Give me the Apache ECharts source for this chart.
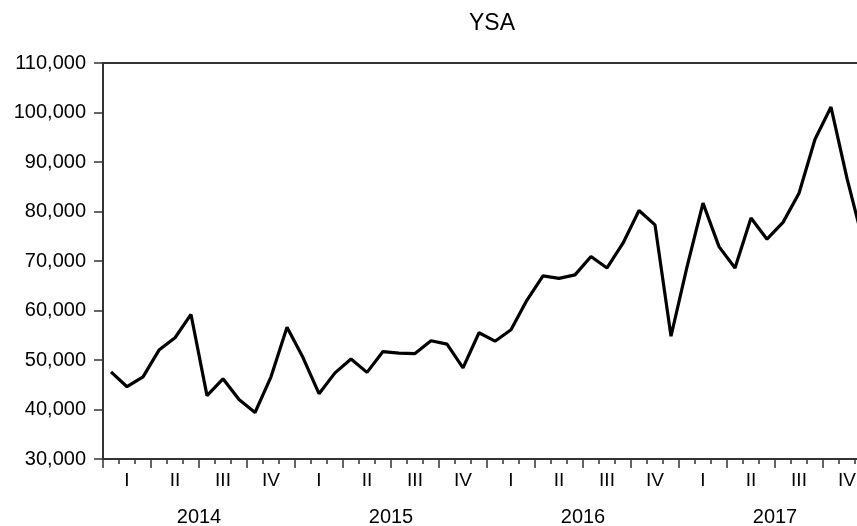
<!DOCTYPE html>
<html>
<head>
<meta charset="utf-8">
<title>YSA</title>
<script src="https://cdn.jsdelivr.net/npm/echarts@6/dist/echarts.min.js"></script>
<style>
  html, body { margin: 0; padding: 0; background: #fff; overflow: hidden; }
  /* the plot runs past the right edge of the window, as in the original */
  #chart { width: 880px; height: 526px; }
</style>
</head>
<body>
<div id="chart"></div>
<script>
// years and quarter labels of the time axis
const years = ['2014', '2015', '2016', '2017']
const quarters = ['I', 'II', 'III', 'IV']
// monthly categories 2014M01 .. 2017M12
const months = years.flatMap(y => Array.from({ length: 12 }, (_, m) => y + 'M' + String(m + 1).padStart(2, '0')))

// YSA, monthly values
const ysa = [
  47600, 44600, 46600, 52000, 54500, 59200, 42800, 46200, 42000, 39400, 46600, 56600,
  50500, 43200, 47400, 50200, 47500, 51700, 51400, 51300, 53900, 53200, 48400, 55500,
  53800, 56100, 62100, 67000, 66500, 67200, 70900, 68600, 73600, 80200, 77300, 54800,
  68800, 81700, 72900, 68600, 78700, 74400, 77800, 83700, 94600, 101100, 86700, 74000
]

const font = 'Liberation Sans'
const axisColor = '#333'

const chart = echarts.init(document.getElementById('chart'))
const option = {
  animation: false,
  title: {
    text: 'YSA',
    left: 487,
    top: 7,
    textAlign: 'center',
    textStyle: { fontFamily: font, fontSize: 23, fontWeight: 'normal', color: '#000' }
  },
  grid: {
    left: 103,
    right: 9,
    top: 63,
    bottom: 67,
    outerBoundsMode: 'none',
    show: true,
    borderColor: axisColor,
    borderWidth: 2
  },
  xAxis: [
    {
      // month ticks
      type: 'category',
      data: months,
      boundaryGap: true,
      position: 'bottom',
      axisLine: { show: true, lineStyle: { color: axisColor, width: 2 } },
      axisTick: { show: true, interval: 0, length: 5, lineStyle: { color: axisColor, width: 1.5 } },
      axisLabel: { show: false }
    },
    {
      // quarter ticks and labels
      type: 'category',
      data: months,
      boundaryGap: true,
      position: 'bottom',
      axisLine: { show: false },
      axisTick: {
        show: true,
        interval: (idx) => idx % 3 === 0,
        length: 9,
        lineStyle: { color: axisColor, width: 1.5 }
      },
      axisLabel: {
        interval: (idx) => idx % 3 === 1,
        formatter: (v, idx) => quarters[Math.floor((idx % 12) / 3)],
        margin: 12,
        fontFamily: font,
        fontSize: 19,
        color: '#000'
      }
    },
    {
      // year labels
      type: 'category',
      data: years,
      boundaryGap: true,
      position: 'bottom',
      axisLine: { show: false },
      axisTick: { show: false },
      axisLabel: { margin: 48, fontFamily: font, fontSize: 20, color: '#000' }
    }
  ],
  yAxis: {
    type: 'value',
    min: 30000,
    max: 110000,
    interval: 10000,
    splitLine: { show: false },
    axisLine: { show: true, lineStyle: { color: axisColor, width: 2 } },
    axisTick: { show: true, length: 9, lineStyle: { color: axisColor, width: 1.5 } },
    axisLabel: {
      margin: 17,
      fontFamily: font,
      fontSize: 20,
      color: '#000',
      padding: [0, 0, 8, 0],
      formatter: (v) => v.toLocaleString('en-US')
    }
  },
  series: [
    {
      name: 'YSA',
      type: 'line',
      xAxisIndex: 0,
      data: ysa,
      symbol: 'none',
      lineStyle: { color: '#000', width: 3.2 }
    }
  ]
}
chart.setOption(option)
</script>
</body>
</html>
